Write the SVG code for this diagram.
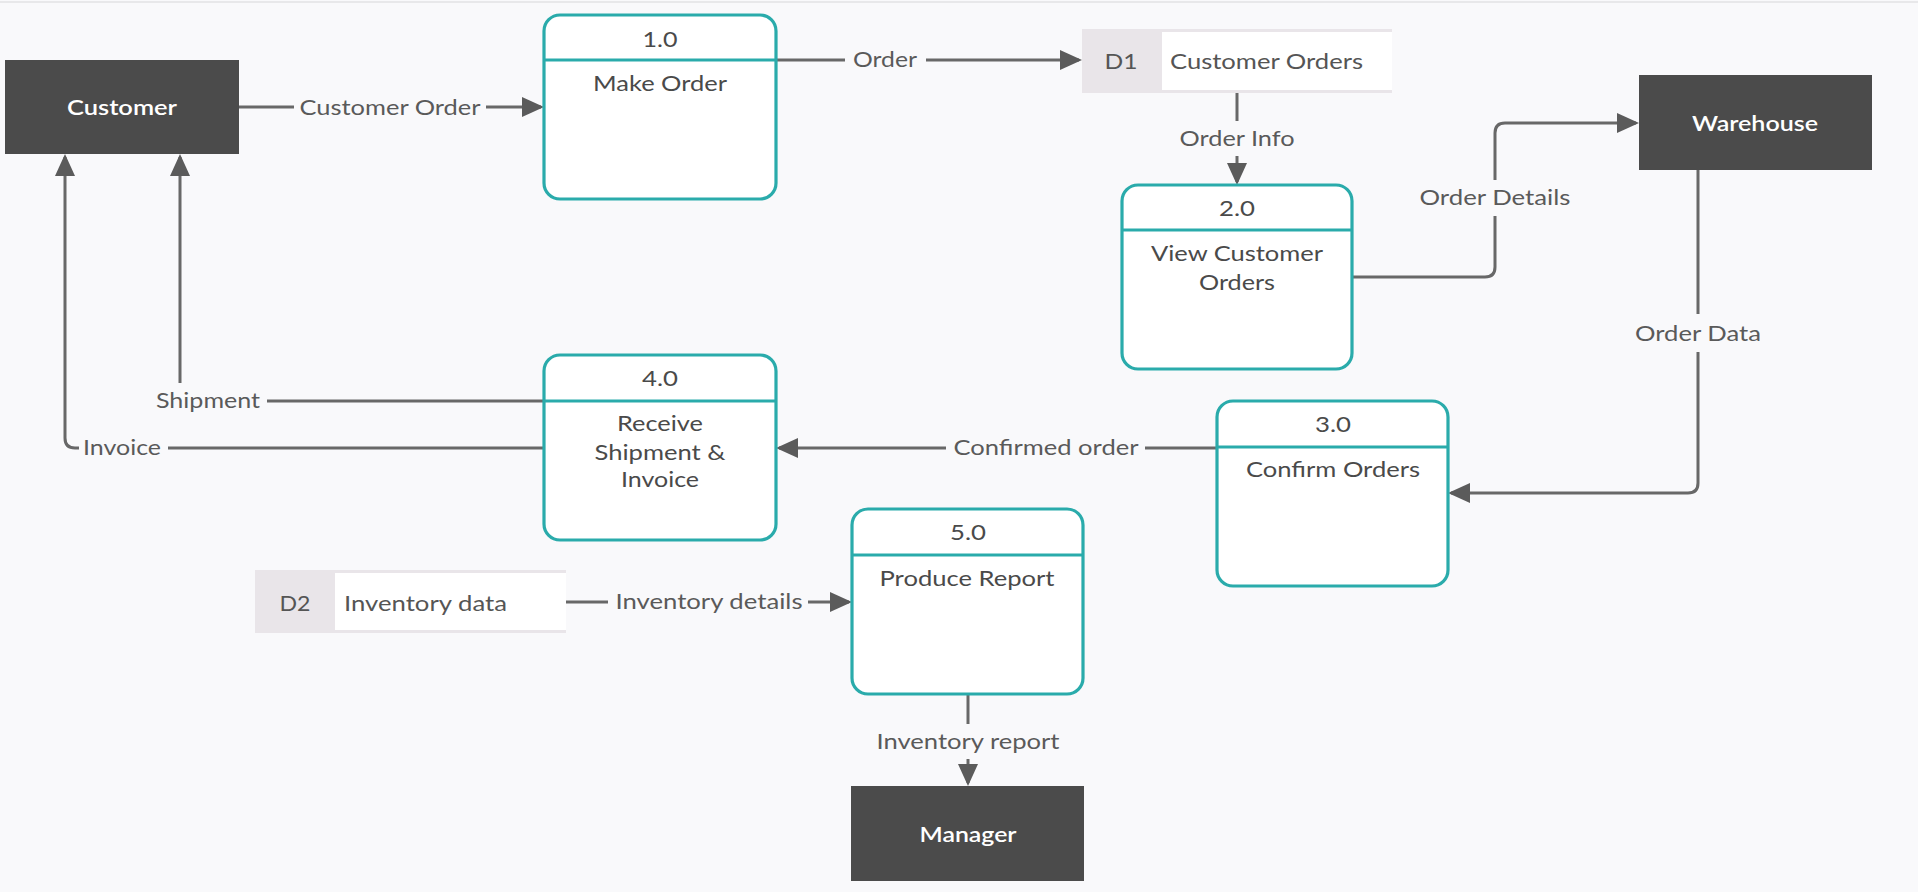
<svg xmlns="http://www.w3.org/2000/svg" width="1918" height="892" viewBox="0 0 1918 892">
<defs>
<style>
.bg{fill:#f9f9fb}
.ent{fill:#4b4b4b}
.entt{fill:#ffffff;font-family:Lato,"Liberation Sans",sans-serif;font-size:21px;font-weight:600;text-anchor:middle}
.proc{fill:#ffffff;stroke:#2aabab;stroke-width:3.2}
.hdr{stroke:#2aabab;stroke-width:3.2}
.pt{fill:#4a4a4a;font-family:Lato,"Liberation Sans",sans-serif;font-size:21px;text-anchor:middle}
.st{fill:#555555;font-family:Lato,"Liberation Sans",sans-serif;font-size:21px}
.lbl{fill:#5a5a5a;font-family:Lato,"Liberation Sans",sans-serif;font-size:21px;text-anchor:middle}
.line{fill:none;stroke:#686868;stroke-width:3}
.lbg{fill:#f9f9fb}
.sg{fill:#e9e5e9}
</style>
<marker id="arr" markerUnits="userSpaceOnUse" markerWidth="24" markerHeight="22" refX="19" refY="10" orient="auto">
<path d="M0,0 L22,10 L0,20 z" fill="#5b5b5b"/>
</marker>
</defs>
<rect class="bg" x="0" y="0" width="1918" height="892"/>
<line x1="0" y1="2" x2="1918" y2="2" stroke="#e8e8ea" stroke-width="2"/>

<g id="connectors">
<path class="line" d="M239,107 H541" marker-end="url(#arr)"/>
<rect class="lbg" x="294" y="94" width="192" height="28"/>
<text class="lbl" x="390" y="115" textLength="181" lengthAdjust="spacingAndGlyphs">Customer Order</text>

<path class="line" d="M776,60 H1079" marker-end="url(#arr)"/>
<rect class="lbg" x="845" y="46" width="81" height="28"/>
<text class="lbl" x="885" y="67" textLength="64" lengthAdjust="spacingAndGlyphs">Order</text>

<path class="line" d="M1237,93 V182" marker-end="url(#arr)"/>
<rect class="lbg" x="1175" y="121" width="124" height="35"/>
<text class="lbl" x="1237" y="146" textLength="115" lengthAdjust="spacingAndGlyphs">Order Info</text>

<path class="line" d="M1352,277 H1485 Q1495,277 1495,267 V133 Q1495,123 1505,123 H1636" marker-end="url(#arr)"/>
<rect class="lbg" x="1415" y="180" width="160" height="36"/>
<text class="lbl" x="1495" y="205" textLength="151" lengthAdjust="spacingAndGlyphs">Order Details</text>

<path class="line" d="M1698,170 V483 Q1698,493 1688,493 H1451" marker-end="url(#arr)"/>
<rect class="lbg" x="1630" y="314" width="136" height="38"/>
<text class="lbl" x="1698" y="341" textLength="126" lengthAdjust="spacingAndGlyphs">Order Data</text>

<path class="line" d="M1217,448 H779" marker-end="url(#arr)"/>
<rect class="lbg" x="946" y="434" width="199" height="28"/>
<text class="lbl" x="1046" y="455" textLength="185" lengthAdjust="spacingAndGlyphs">Confirmed order</text>

<path class="line" d="M544,401 H180 V157" marker-end="url(#arr)"/>
<rect class="lbg" x="150" y="383" width="117" height="34"/>
<text class="lbl" x="208" y="408" textLength="104" lengthAdjust="spacingAndGlyphs">Shipment</text>

<path class="line" d="M544,448 H75 Q65,448 65,438 V157" marker-end="url(#arr)"/>
<rect class="lbg" x="79" y="434" width="89" height="28"/>
<text class="lbl" x="122" y="455" textLength="78" lengthAdjust="spacingAndGlyphs">Invoice</text>

<path class="line" d="M566,602 H849" marker-end="url(#arr)"/>
<rect class="lbg" x="608" y="588" width="200" height="28"/>
<text class="lbl" x="709" y="609" textLength="187" lengthAdjust="spacingAndGlyphs">Inventory details</text>

<path class="line" d="M968,694 V783" marker-end="url(#arr)"/>
<rect class="lbg" x="870" y="724" width="196" height="35"/>
<text class="lbl" x="968" y="749" textLength="183" lengthAdjust="spacingAndGlyphs">Inventory report</text>
</g>

<g id="customer">
<rect class="ent" x="5" y="60" width="234" height="94"/>
<text class="entt" x="122" y="115" textLength="110" lengthAdjust="spacingAndGlyphs">Customer</text>
</g>
<g id="warehouse">
<rect class="ent" x="1639" y="75" width="233" height="95"/>
<text class="entt" x="1755" y="131" textLength="126" lengthAdjust="spacingAndGlyphs">Warehouse</text>
</g>
<g id="manager">
<rect class="ent" x="851" y="786" width="233" height="95"/>
<text class="entt" x="968" y="842" textLength="97" lengthAdjust="spacingAndGlyphs">Manager</text>
</g>

<g id="p1">
<rect class="proc" x="544" y="15" width="232" height="184" rx="16"/>
<line class="hdr" x1="544" y1="60" x2="776" y2="60"/>
<text class="pt" x="660" y="47" textLength="35" lengthAdjust="spacingAndGlyphs">1.0</text>
<text class="pt" x="660" y="91" textLength="134" lengthAdjust="spacingAndGlyphs">Make Order</text>
</g>
<g id="p2">
<rect class="proc" x="1122" y="185" width="230" height="184" rx="16"/>
<line class="hdr" x1="1122" y1="230" x2="1352" y2="230"/>
<text class="pt" x="1237" y="216" textLength="36" lengthAdjust="spacingAndGlyphs">2.0</text>
<text class="pt" x="1237" y="261" textLength="172" lengthAdjust="spacingAndGlyphs">View Customer</text>
<text class="pt" x="1237" y="290" textLength="76" lengthAdjust="spacingAndGlyphs">Orders</text>
</g>
<g id="p3">
<rect class="proc" x="1217" y="401" width="231" height="185" rx="16"/>
<line class="hdr" x1="1217" y1="447" x2="1448" y2="447"/>
<text class="pt" x="1333" y="432" textLength="36" lengthAdjust="spacingAndGlyphs">3.0</text>
<text class="pt" x="1333" y="477" textLength="174" lengthAdjust="spacingAndGlyphs">Confirm Orders</text>
</g>
<g id="p4">
<rect class="proc" x="544" y="355" width="232" height="185" rx="16"/>
<line class="hdr" x1="544" y1="401" x2="776" y2="401"/>
<text class="pt" x="660" y="386" textLength="36" lengthAdjust="spacingAndGlyphs">4.0</text>
<text class="pt" x="660" y="431" textLength="86" lengthAdjust="spacingAndGlyphs">Receive</text>
<text class="pt" x="660" y="460" textLength="131" lengthAdjust="spacingAndGlyphs">Shipment &amp;</text>
<text class="pt" x="660" y="487" textLength="78" lengthAdjust="spacingAndGlyphs">Invoice</text>
</g>
<g id="p5">
<rect class="proc" x="852" y="509" width="231" height="185" rx="16"/>
<line class="hdr" x1="852" y1="555" x2="1083" y2="555"/>
<text class="pt" x="968" y="540" textLength="36" lengthAdjust="spacingAndGlyphs">5.0</text>
<text class="pt" x="967" y="586" textLength="175" lengthAdjust="spacingAndGlyphs">Produce Report</text>
</g>

<g id="d1">
<rect class="sg" x="1082" y="29" width="310" height="64"/>
<rect fill="#ffffff" x="1162" y="32" width="230" height="58"/>
<text class="st" x="1121" y="69" text-anchor="middle" textLength="33" lengthAdjust="spacingAndGlyphs">D1</text>
<text class="st" x="1170" y="69" textLength="193" lengthAdjust="spacingAndGlyphs">Customer Orders</text>
</g>
<g id="d2">
<rect class="sg" x="255" y="570" width="311" height="63"/>
<rect fill="#ffffff" x="335" y="573" width="231" height="57"/>
<text class="st" x="295" y="611" text-anchor="middle" textLength="31" lengthAdjust="spacingAndGlyphs">D2</text>
<text class="st" x="344" y="611" textLength="163" lengthAdjust="spacingAndGlyphs">Inventory data</text>
</g>
</svg>
